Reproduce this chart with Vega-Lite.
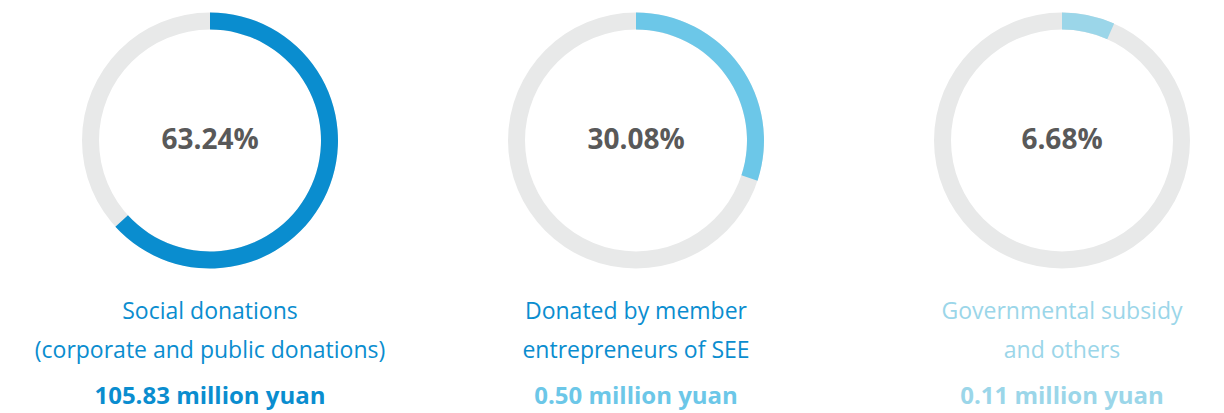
{
  "$schema": "https://vega.github.io/schema/vega-lite/v6.json",
  "padding": 0,
  "spacing": 0,
  "background": "white",
  "config": {"view": {"stroke": null}, "font": "Open Sans"},
  "data": {
    "values": [
      {"source": "Social donations", "share": 0.6324, "label": "Social donations\n(corporate and public donations)", "amount": "105.83 million yuan"},
      {"source": "Member entrepreneurs", "share": 0.3008, "label": "Donated by member\nentrepreneurs of SEE", "amount": "0.50 million yuan"},
      {"source": "Government and others", "share": 0.0668, "label": "Governmental subsidy\nand others", "amount": "0.11 million yuan"}
    ]
  },
  "resolve": {"scale": {"x": "independent", "y": "independent", "color": "independent"}},
  "vconcat": [
    {
      "width": 1224,
      "height": 281,
      "encoding": {
        "x": {"field": "source", "type": "nominal", "sort": null, "scale": {"type": "point", "padding": 0, "range": [210, 1062]}, "axis": null}
      },
      "layer": [
        {
          "mark": {"type": "arc", "theta": 0, "theta2": 6.283185, "innerRadius": 111, "outerRadius": 128, "color": "#E8E9E9"}
        },
        {
          "mark": {"type": "arc", "innerRadius": 111, "outerRadius": 128},
          "encoding": {
            "theta": {"field": "share", "type": "quantitative", "stack": null, "scale": {"domain": [0, 1], "range": [0, 6.283185]}},
            "theta2": {"datum": 0},
            "color": {"field": "source", "type": "nominal", "sort": null, "scale": {"domain": ["Social donations", "Member entrepreneurs", "Government and others"], "range": ["#0A8DCF", "#6CC7E8", "#9BD6E9"]}, "legend": null}
          }
        },
        {
          "mark": {"type": "text", "fontSize": 28, "fontWeight": "bold", "color": "#595959", "baseline": "middle", "align": "center"},
          "encoding": {
            "text": {"field": "share", "type": "quantitative", "format": ".2%"}
          }
        }
      ]
    },
    {
      "width": 1224,
      "height": 132,
      "encoding": {
        "x": {"field": "source", "type": "nominal", "sort": null, "scale": {"type": "point", "padding": 0, "range": [210, 1062]}, "axis": null}
      },
      "layer": [
        {
          "mark": {"type": "text", "fontSize": 23, "baseline": "alphabetic", "align": "center", "lineBreak": "\n", "lineHeight": 39},
          "encoding": {
            "y": {"datum": "label", "type": "nominal", "scale": {"type": "point", "padding": 0, "domain": ["label", "amount"], "range": [38, 123]}, "axis": null},
            "text": {"field": "label", "type": "nominal"},
            "color": {"condition": {"test": "datum.source === 'Government and others'", "value": "#9BD6E9"}, "value": "#0A8DCF"}
          }
        },
        {
          "mark": {"type": "text", "fontSize": 24, "fontWeight": "bold", "baseline": "alphabetic", "align": "center"},
          "encoding": {
            "y": {"datum": "amount", "type": "nominal", "scale": {"type": "point", "padding": 0, "domain": ["label", "amount"], "range": [38, 123]}, "axis": null},
            "text": {"field": "amount", "type": "nominal"},
            "color": {"field": "source", "type": "nominal", "sort": null, "scale": {"domain": ["Social donations", "Member entrepreneurs", "Government and others"], "range": ["#0A8DCF", "#6CC7E8", "#9BD6E9"]}, "legend": null}
          }
        }
      ]
    }
  ]
}
